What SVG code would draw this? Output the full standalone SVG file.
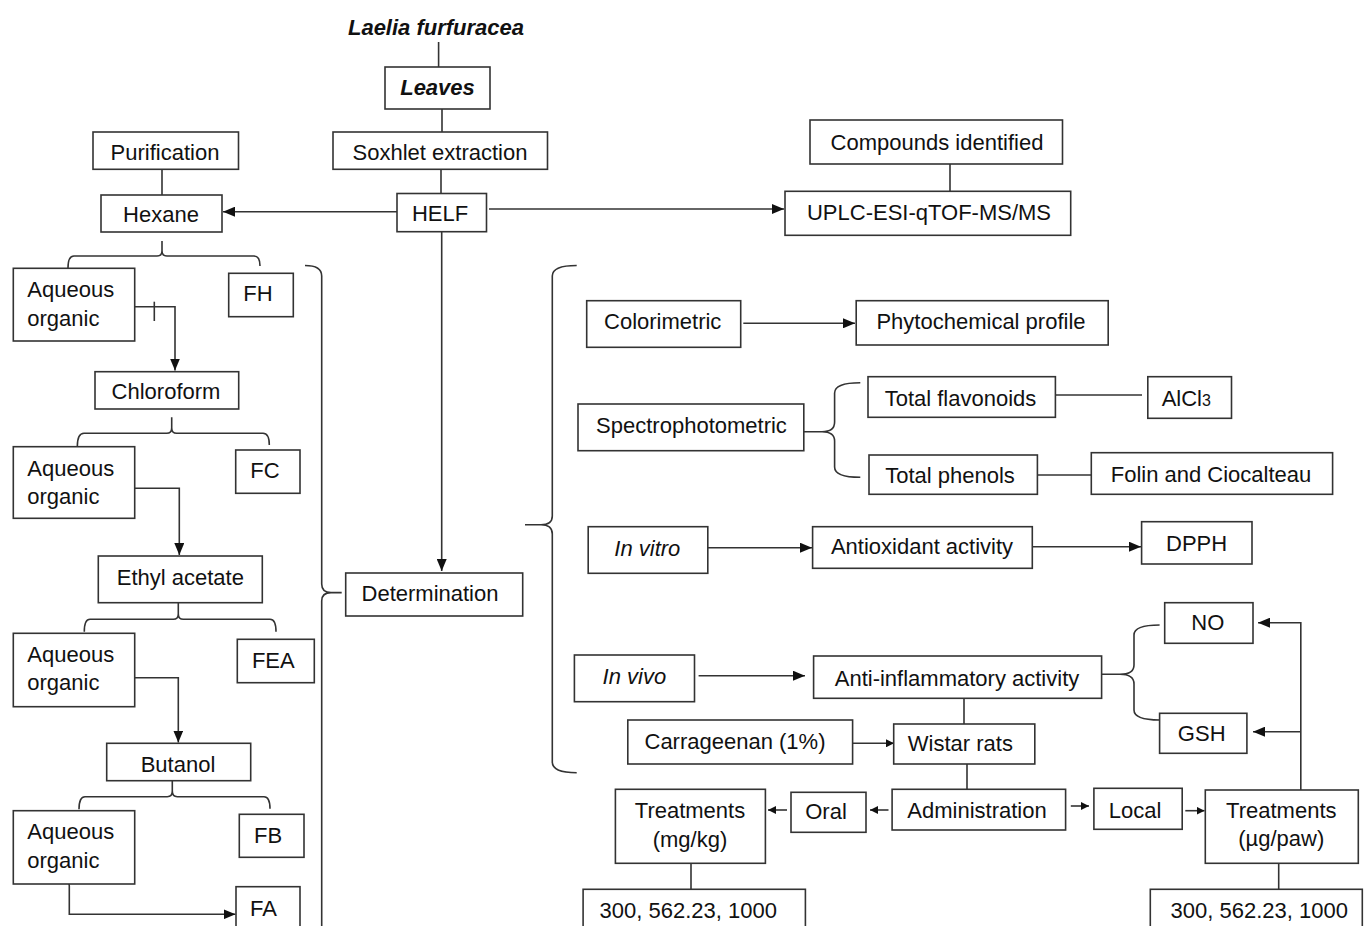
<svg xmlns="http://www.w3.org/2000/svg" width="1365" height="926" viewBox="0 0 1365 926">
<defs>
<style>
.b{fill:#fff;stroke:#333;stroke-width:1.6}
.t{font-family:"Liberation Sans",Arial,sans-serif;font-size:22px;fill:#111;text-anchor:middle;dominant-baseline:central}
.l{text-anchor:start}
.bi{font-weight:bold;font-style:italic}
.i{font-style:italic}
.c{fill:none;stroke:#333;stroke-width:1.6}
</style>
<marker id="a" markerUnits="userSpaceOnUse" markerWidth="12" markerHeight="10" refX="12" refY="5" orient="auto"><path d="M0,0 L12,5 L0,10 z" fill="#111"/></marker>
<marker id="s" markerUnits="userSpaceOnUse" markerWidth="8" markerHeight="8" refX="8" refY="4" orient="auto"><path d="M0,0 L8,4 L0,8 z" fill="#111"/></marker>
</defs>
<rect width="1365" height="926" fill="#fff"/>

<g id="connectors" class="c">
<path d="M438.6,42 V67"/>
<path d="M442,108.7 V132"/>
<path d="M441,169.3 V193.5"/>
<path d="M162,169.3 V195"/>
<path d="M397,211.7 H223" marker-end="url(#a)"/>
<path d="M489,209 H784" marker-end="url(#a)"/>
<path d="M950,164 V191.3"/>
<path d="M441.7,231.7 V571" marker-end="url(#a)"/>
<path d="M68,268 Q68,256 74,256 H157 Q162,256 162,251 V241 M162,251 Q162,256 167,256 H254 Q260,256 260,266"/>
<path d="M134.7,306.7 H175 V370.5" marker-end="url(#a)"/>
<path d="M154.3,301.7 V321"/>
<path d="M77.3,446.7 Q77.3,433.3 84,433.3 H166.7 Q171.7,433.3 171.7,428 V417.3 M171.7,428 Q171.7,433.3 176.7,433.3 H263 Q269.3,433.3 269.3,445"/>
<path d="M134.7,488.3 H179.3 V555" marker-end="url(#a)"/>
<path d="M84.3,631.7 Q84.3,619.3 90,619.3 H173.3 Q178.3,619.3 178.3,614 V602.7 M178.3,614 Q178.3,619.3 183.3,619.3 H270 Q276,619.3 276,631.7"/>
<path d="M134.7,677.7 H178.3 V742.5" marker-end="url(#a)"/>
<path d="M79,809.3 Q79,796.7 85,796.7 H167.3 Q172.3,796.7 172.3,791 V780.7 M172.3,791 Q172.3,796.7 177.3,796.7 H264 Q270,796.7 270,808.7"/>
<path d="M66,882 Q69.3,882 69.3,886 V914.3 H235.5" marker-end="url(#a)"/>
<path d="M305,265.5 Q321.7,265.5 321.7,276 V584 Q321.7,592.6 331,592.6 H341.7 M331,592.6 Q321.7,592.6 321.7,601 V930"/>
<path d="M576.7,265.5 Q552.3,265.5 552.3,276 V516 Q552.3,524.8 541,524.8 H525 M541,524.8 Q552.3,524.8 552.3,534 V762 Q552.3,772.7 576.7,772.7"/>
<path d="M743.3,323.3 H855" marker-end="url(#a)"/>
<path d="M860.3,382.7 Q834.6,382.7 834.6,393 V422 Q834.6,431.7 822,431.7 H804 M822,431.7 Q834.6,431.7 834.6,441 V467 Q834.6,477.3 860.3,477.3"/>
<path d="M1055.4,395 H1142"/>
<path d="M1037.4,475 H1091"/>
<path d="M707.8,547.7 H812" marker-end="url(#a)"/>
<path d="M1032.3,546.7 H1141" marker-end="url(#a)"/>
<path d="M698.6,675.7 H805" marker-end="url(#a)"/>
<path d="M1159.6,625 Q1134,625 1134,635 V665 Q1134,674.3 1120,674.3 H1102 M1120,674.3 Q1134,674.3 1134,684 V710 Q1134,720 1159.6,720"/>
<path d="M964,698.3 V724"/>
<path d="M852.6,743.3 H894" marker-end="url(#s)"/>
<path d="M967,764 V789.3"/>
<path d="M888.5,810 H870" marker-end="url(#s)"/>
<path d="M787,810 H768" marker-end="url(#s)"/>
<path d="M1070.8,806 H1089" marker-end="url(#s)"/>
<path d="M1185.3,810.7 H1204.5" marker-end="url(#s)"/>
<path d="M1300.8,790 V622.7 H1258" marker-end="url(#a)"/>
<path d="M1300.8,731.7 H1253" marker-end="url(#a)"/>
<path d="M691,863.3 V889.3"/>
<path d="M1278.7,863.3 V889.3"/>
</g>

<g id="title"><text class="t bi" x="436" y="27">Laelia furfuracea</text></g>
<g id="leaves"><rect class="b" x="385" y="67" width="105" height="42"/><text class="t bi" x="437.5" y="87.5">Leaves</text></g>
<g id="soxhlet"><rect class="b" x="333" y="132" width="214.5" height="37.3"/><text class="t" x="440" y="152">Soxhlet extraction</text></g>
<g id="purification"><rect class="b" x="93" y="132" width="145.5" height="37.3"/><text class="t" x="165" y="152">Purification</text></g>
<g id="hexane"><rect class="b" x="101" y="195" width="121" height="37"/><text class="t" x="161" y="214.5">Hexane</text></g>
<g id="helf"><rect class="b" x="397" y="193.5" width="89.5" height="38.2"/><text class="t" x="440" y="213.5">HELF</text></g>
<g id="compounds"><rect class="b" x="810" y="120" width="252.5" height="44"/><text class="t" x="937" y="142">Compounds identified</text></g>
<g id="uplc"><rect class="b" x="785" y="191.3" width="285.7" height="44"/><text class="t" x="929" y="212">UPLC-ESI-qTOF-MS/MS</text></g>

<g id="ao1"><rect class="b" x="13.3" y="268.3" width="121.4" height="72.7"/><text class="t l" x="27.3" y="289.3">Aqueous</text><text class="t l" x="27.3" y="318.3">organic</text></g>
<g id="fh"><rect class="b" x="228.7" y="273.3" width="64.6" height="43.4"/><text class="t" x="258" y="293.5">FH</text></g>
<g id="chloroform"><rect class="b" x="95" y="371.7" width="143.7" height="37.3"/><text class="t" x="166" y="391.5">Chloroform</text></g>
<g id="ao2"><rect class="b" x="13.3" y="446.7" width="121.4" height="71.6"/><text class="t l" x="27.3" y="468.3">Aqueous</text><text class="t l" x="27.3" y="496.7">organic</text></g>
<g id="fc"><rect class="b" x="235.7" y="450" width="64.3" height="43.3"/><text class="t" x="265" y="470">FC</text></g>
<g id="ethyl"><rect class="b" x="98.3" y="556" width="164" height="46.7"/><text class="t" x="180.3" y="577">Ethyl acetate</text></g>
<g id="ao3"><rect class="b" x="13.3" y="633.3" width="121.4" height="73.4"/><text class="t l" x="27.3" y="654">Aqueous</text><text class="t l" x="27.3" y="682.7">organic</text></g>
<g id="fea"><rect class="b" x="237.3" y="639.3" width="77" height="43.4"/><text class="t" x="273.3" y="660">FEA</text></g>
<g id="butanol"><rect class="b" x="106.7" y="743.3" width="144" height="37.4"/><text class="t" x="178" y="764">Butanol</text></g>
<g id="ao4"><rect class="b" x="13.3" y="810.7" width="121.4" height="73.3"/><text class="t l" x="27.3" y="831.7">Aqueous</text><text class="t l" x="27.3" y="860">organic</text></g>
<g id="fb"><rect class="b" x="239.3" y="814.3" width="64.7" height="43"/><text class="t" x="268" y="835.5">FB</text></g>
<g id="fa"><rect class="b" x="236" y="886.7" width="64" height="60"/><text class="t" x="263.5" y="908">FA</text></g>

<g id="determination"><rect class="b" x="345.7" y="573" width="177" height="43"/><text class="t" x="430" y="593.3">Determination</text></g>

<g id="colorimetric"><rect class="b" x="586.7" y="300.7" width="154" height="46.6"/><text class="t" x="662.7" y="321.7">Colorimetric</text></g>
<g id="phyto"><rect class="b" x="856.2" y="300.7" width="252" height="44.3"/><text class="t" x="981" y="321.7">Phytochemical profile</text></g>
<g id="spectro"><rect class="b" x="578" y="404" width="225.8" height="46.7"/><text class="t" x="691.5" y="425.7">Spectrophotometric</text></g>
<g id="flavonoids"><rect class="b" x="868" y="376.7" width="187.4" height="40.6"/><text class="t" x="960.5" y="398.3">Total flavonoids</text></g>
<g id="alcl3"><rect class="b" x="1147.8" y="376.7" width="83.7" height="41.6"/><text class="t" x="1186.3" y="398.3">AlCl<tspan font-size="16" dy="2">3</tspan></text></g>
<g id="phenols"><rect class="b" x="869" y="455" width="168.4" height="39.3"/><text class="t" x="950" y="475.7">Total phenols</text></g>
<g id="folin"><rect class="b" x="1091.3" y="452.7" width="241.3" height="41.6"/><text class="t" x="1211" y="474.3">Folin and Ciocalteau</text></g>
<g id="invitro"><rect class="b" x="588.2" y="526.7" width="119.6" height="46.6"/><text class="t i" x="647.3" y="548.3">In vitro</text></g>
<g id="antioxidant"><rect class="b" x="812.6" y="526.7" width="219.7" height="41.6"/><text class="t" x="922" y="546.7">Antioxidant activity</text></g>
<g id="dpph"><rect class="b" x="1141.6" y="521.7" width="110.4" height="42.3"/><text class="t" x="1196.6" y="543.3">DPPH</text></g>
<g id="no"><rect class="b" x="1164.7" y="602.7" width="88.3" height="40.6"/><text class="t" x="1207.8" y="622.7">NO</text></g>
<g id="invivo"><rect class="b" x="574.4" y="655" width="120.1" height="46.7"/><text class="t i" x="634.4" y="676">In vivo</text></g>
<g id="antiinflammatory"><rect class="b" x="813.6" y="656" width="288" height="42.3"/><text class="t" x="957" y="678.3">Anti-inflammatory activity</text></g>
<g id="gsh"><rect class="b" x="1159.6" y="713.3" width="87.3" height="40"/><text class="t" x="1201.7" y="733.3">GSH</text></g>
<g id="carrageenan"><rect class="b" x="627.8" y="720" width="224.8" height="44"/><text class="t" x="735" y="741">Carrageenan (1%)</text></g>
<g id="wistar"><rect class="b" x="893.7" y="724" width="141.1" height="40"/><text class="t" x="960.4" y="743.3">Wistar rats</text></g>
<g id="administration"><rect class="b" x="892.1" y="789.3" width="173.5" height="40.7"/><text class="t" x="977" y="810.7">Administration</text></g>
<g id="oral"><rect class="b" x="791" y="792.3" width="75" height="40"/><text class="t" x="826" y="811.7">Oral</text></g>
<g id="treatments-mgkg"><rect class="b" x="615.4" y="789.3" width="150" height="74"/><text class="t" x="690" y="810">Treatments</text><text class="t" x="690" y="839.3">(mg/kg)</text></g>
<g id="doses-oral"><rect class="b" x="583.1" y="889.3" width="222.3" height="60"/><text class="t" x="688.3" y="910">300, 562.23, 1000</text></g>
<g id="local"><rect class="b" x="1093.9" y="788.3" width="88.3" height="41"/><text class="t" x="1135" y="810">Local</text></g>
<g id="treatments-ugpaw"><rect class="b" x="1205.3" y="790" width="153" height="73.3"/><text class="t" x="1281.3" y="810">Treatments</text><text class="t" x="1281.3" y="838.3">(µg/paw)</text></g>
<g id="doses-local"><rect class="b" x="1150.3" y="889.3" width="212" height="60"/><text class="t" x="1259.2" y="910">300, 562.23, 1000</text></g>
</svg>
